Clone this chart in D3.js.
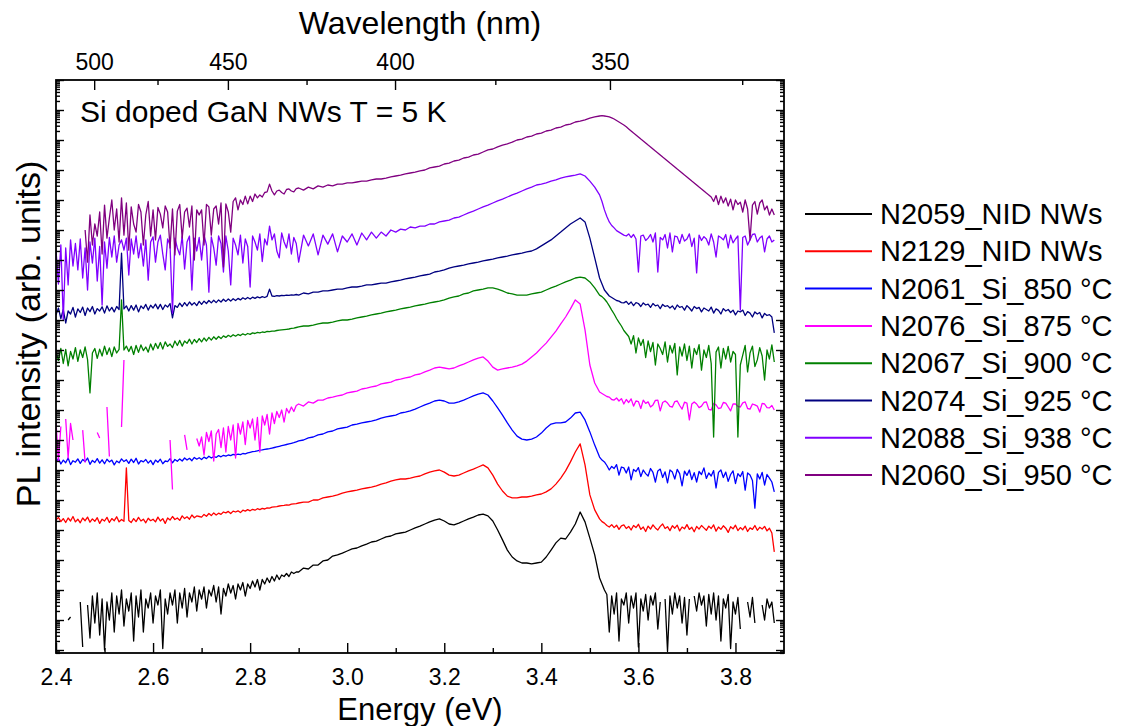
<!DOCTYPE html>
<html>
<head>
<meta charset="utf-8">
<script src="https://cdn.jsdelivr.net/npm/d3@7"></script>
<style>
  body { margin: 0; background: #fff; }
  svg { display: block; }
  text { font-family: "Liberation Sans", Arial, Helvetica, sans-serif; fill: #000; }
</style>
</head>
<body>
<svg id="chart" width="1121" height="726"></svg>
<script>
// Photon energy grid (eV) shared by all spectra: 5 meV steps in the noisy tails, 10 meV in between
const energy = [
  2.400,2.405,2.410,2.415,2.420,2.425,2.430,2.435,2.440,2.445,
  2.450,2.455,2.460,2.465,2.470,2.475,2.480,2.485,2.490,2.495,
  2.500,2.505,2.510,2.515,2.520,2.525,2.530,2.535,2.540,2.545,
  2.550,2.555,2.560,2.565,2.570,2.575,2.580,2.585,2.590,2.595,
  2.600,2.605,2.610,2.615,2.620,2.625,2.630,2.635,2.640,2.645,
  2.650,2.655,2.660,2.665,2.670,2.675,2.680,2.685,2.690,2.695,
  2.700,2.705,2.710,2.715,2.720,2.725,2.730,2.735,2.740,2.745,
  2.750,2.755,2.760,2.765,2.770,2.775,2.780,2.785,2.790,2.795,
  2.800,2.805,2.810,2.815,2.820,2.825,2.830,2.835,2.840,2.845,
  2.850,2.855,2.860,2.865,2.870,2.875,2.880,2.885,2.890,2.895,
  2.90,2.91,2.92,2.93,2.94,2.95,2.96,2.97,2.98,2.99,
  3.00,3.01,3.02,3.03,3.04,3.05,3.06,3.07,3.08,3.09,
  3.10,3.11,3.12,3.13,3.14,3.15,3.16,3.17,3.18,3.19,
  3.20,3.21,3.22,3.23,3.24,3.25,3.26,3.27,3.28,3.29,
  3.30,3.31,3.32,3.33,3.34,3.35,3.36,3.37,3.38,3.39,
  3.40,3.41,3.42,3.43,3.44,3.45,3.46,3.47,3.48,3.49,
  3.50,3.51,
  3.520,3.525,3.530,3.535,3.540,3.545,3.550,3.555,3.560,3.565,
  3.570,3.575,3.580,3.585,3.590,3.595,3.600,3.605,3.610,3.615,
  3.620,3.625,3.630,3.635,3.640,3.645,3.650,3.655,3.660,3.665,
  3.670,3.675,3.680,3.685,3.690,3.695,3.700,3.705,3.710,3.715,
  3.720,3.725,3.730,3.735,3.740,3.745,3.750,3.755,3.760,3.765,
  3.770,3.775,3.780,3.785,3.790,3.795,3.800,3.805,3.810,3.815,
  3.820,3.825,3.830,3.835,3.840,3.845,3.850,3.855,3.860,3.865,
  3.870,3.875,3.880
];

// Sample names, legend order
const samples = [
  "N2059_NID NWs", "N2129_NID NWs", "N2061_Si_850 °C", "N2076_Si_875 °C",
  "N2067_Si_900 °C", "N2074_Si_925 °C", "N2088_Si_938 °C", "N2060_Si_950 °C"
];
const colors = ["#000000", "#ff0000", "#0000ff", "#ff00ff", "#008000", "#000080", "#8000ff", "#800080"];

// log10 of the (vertically offset) PL intensity, one value per energy; null = no positive signal
const pl_N2059 = [
  null,null,null,null,null,1.0,1.1,null,null,null,
  1.6,0.1,null,1.5,0.4,1.8,0.9,1.9,0.5,1.7,
  0.0,1.6,1.0,1.9,0.6,1.8,1.2,2.0,0.8,1.7,
  1.3,1.9,0.3,1.8,1.1,2.0,0.6,1.7,1.4,1.9,
  0.9,1.8,1.5,2.0,0.05,1.7,1.2,1.9,1.5,2.0,
  0.9,1.9,1.4,2.05,1.1,1.9,1.6,2.1,1.3,2.0,
  1.7,2.1,1.4,2.0,1.8,2.15,1.6,2.1,1.2,2.05,
  1.8,2.2,1.9,2.15,1.7,2.2,2.0,2.25,1.8,2.2,
  2.05,2.3,2.1,2.35,2.0,2.35,2.2,2.4,2.25,2.45,
  2.3,2.5,2.35,2.5,2.45,2.55,2.45,2.6,2.55,2.6,
  2.6,2.73,2.7,2.83,2.83,2.97,3.0,3.13,3.17,3.23,
  3.3,3.37,3.4,3.47,3.53,3.6,3.63,3.7,3.77,3.8,
  3.87,3.9,3.93,4.0,4.07,4.13,4.2,4.27,4.33,4.37,
  4.3,4.2,4.17,4.23,4.3,4.37,4.43,4.5,4.53,4.47,
  4.3,4.0,3.67,3.33,3.1,2.97,2.9,2.9,2.87,2.9,
  2.93,3.1,3.33,3.57,3.73,3.7,3.93,4.2,4.6,4.27,
  3.73,3.17,
  2.4,2.2,2.0,1.85,0.6,1.8,1.2,1.9,0.3,1.7,
  1.5,1.9,0.9,1.8,1.4,1.9,0.1,1.7,1.3,1.85,
  1.0,1.8,1.5,1.9,0.7,1.6,null,1.7,-0.05,1.8,
  1.2,1.9,1.4,1.8,0.9,1.75,0.5,1.7,null,1.8,
  1.3,1.9,1.5,1.8,0.8,1.85,1.2,1.9,1.0,1.8,
  0.3,1.7,1.4,1.85,0.05,1.6,1.2,1.75,0.7,null,
  null,1.6,1.1,1.75,0.9,null,null,1.5,1.0,1.7,
  1.4,1.6,0.9
];
const pl_N2129 = [
  4.33,4.42,4.28,4.38,4.25,4.40,4.30,4.45,4.27,4.36,
  4.24,4.40,4.31,4.43,4.26,4.37,4.29,4.41,4.22,4.36,
  4.30,4.42,4.25,4.38,4.31,4.44,4.27,4.35,4.29,6.07,
  4.32,4.25,4.38,4.28,4.42,4.30,4.36,4.24,4.39,4.31,
  4.36,4.27,4.43,4.30,4.38,4.22,4.40,4.33,4.45,4.35,
  4.40,4.32,4.47,4.38,4.44,4.36,4.50,4.41,4.47,4.45,
  4.43,4.52,4.46,4.55,4.48,4.57,4.50,4.56,4.52,4.60,
  4.57,4.62,4.55,4.63,4.60,4.64,4.58,4.66,4.63,4.68,
  4.64,4.69,4.66,4.71,4.68,4.72,4.70,4.74,4.73,4.76,
  4.77,4.78,4.80,4.81,4.82,4.84,4.83,4.86,4.87,4.88,
  4.9,4.93,4.93,5.0,5.0,5.07,5.1,5.13,5.17,5.23,
  5.27,5.3,5.33,5.37,5.4,5.43,5.47,5.53,5.57,5.63,
  5.67,5.7,5.7,5.73,5.77,5.8,5.87,5.93,5.97,6.0,
  5.93,5.83,5.8,5.83,5.9,5.97,6.03,6.1,6.17,6.07,
  5.83,5.53,5.3,5.13,5.07,5.07,5.1,5.1,5.13,5.17,
  5.2,5.27,5.37,5.53,5.73,5.97,6.27,6.6,6.87,6.17,
  5.17,4.67,
  4.37,4.28,4.23,4.15,4.10,4.18,4.08,4.16,4.02,4.14,
  4.17,4.05,4.12,4.00,4.15,4.08,4.19,4.02,4.10,3.95,
  4.13,4.03,4.17,4.07,4.00,4.12,4.20,4.05,4.11,3.98,
  4.14,4.06,4.16,3.97,4.10,4.04,4.18,4.02,4.09,3.94,
  4.12,4.03,4.15,4.07,3.99,4.13,4.05,4.17,3.96,4.10,
  4.02,4.14,4.06,3.92,4.11,4.04,4.16,3.98,4.08,4.01,
  4.13,3.95,4.07,4.02,4.15,3.99,4.09,4.03,4.12,3.97,
  4.06,3.90,3.27
];
const pl_N2061 = [
  6.27,6.38,6.20,6.33,6.24,6.40,6.18,6.31,6.26,6.37,
  6.22,6.35,6.28,6.40,6.19,6.32,6.25,6.38,6.23,6.34,
  6.21,6.36,6.27,6.33,6.17,6.30,6.24,6.37,6.28,6.34,
  6.22,6.36,6.25,6.39,6.20,6.31,6.27,6.35,6.23,6.32,
  6.18,6.33,6.26,6.36,6.21,6.30,6.28,6.38,6.24,6.35,
  6.29,6.37,6.30,6.40,6.33,6.39,6.31,6.42,6.36,6.41,
  6.35,6.43,6.38,6.46,6.40,6.45,6.42,6.48,6.44,6.49,
  6.46,6.50,6.48,6.52,6.50,6.53,6.51,6.55,6.54,6.57,
  6.59,6.61,6.62,6.64,6.66,6.67,6.69,6.70,6.71,6.73,
  6.75,6.77,6.79,6.81,6.83,6.85,6.87,6.89,6.91,6.94,
  6.97,7.0,7.07,7.1,7.17,7.2,7.27,7.3,7.37,7.4,
  7.43,7.5,7.53,7.57,7.6,7.63,7.67,7.73,7.77,7.8,
  7.83,7.9,7.93,7.97,8.03,8.1,8.17,8.23,8.3,8.33,
  8.3,8.23,8.23,8.27,8.33,8.4,8.47,8.53,8.57,8.5,
  8.3,8.07,7.83,7.57,7.33,7.13,7.03,7.0,7.03,7.1,
  7.23,7.4,7.53,7.57,7.57,7.6,7.73,7.9,7.93,7.67,
  7.27,6.83,
  6.43,6.33,6.27,6.15,6.00,6.12,6.05,6.18,5.83,6.10,
  6.07,5.90,6.10,5.67,6.02,5.95,6.08,5.78,6.00,5.88,
  5.80,6.05,5.92,5.60,5.97,6.03,5.75,5.94,5.57,6.00,
  5.93,5.70,6.02,5.88,5.47,5.96,5.82,6.00,5.68,5.91,
  5.60,5.95,5.85,6.07,5.72,5.90,5.80,5.98,5.40,5.92,
  6.00,5.75,5.93,5.62,5.85,5.97,5.55,5.88,5.78,5.95,
  5.33,5.90,5.83,5.65,4.73,5.87,5.70,5.92,5.50,5.85,
  5.73,5.60,5.27
];
const pl_N2076 = [
  7.60,6.30,7.45,null,7.70,6.40,7.55,7.0,null,null,
  null,7.33,6.25,null,null,null,null,7.25,7.07,null,
  null,8.10,6.45,null,null,null,null,7.43,9.67,null,
  null,null,null,null,null,null,null,null,null,null,
  null,null,null,null,null,null,null,7.0,5.35,null,
  null,null,null,7.17,6.67,null,null,null,7.05,6.80,
  7.10,6.50,7.25,6.95,7.30,6.30,7.20,7.35,6.75,7.40,
  6.60,7.45,7.00,7.50,6.40,7.55,7.20,7.60,6.85,7.65,
  7.40,7.70,7.00,7.75,6.60,7.80,7.50,7.85,7.20,7.90,
  7.55,7.95,7.75,8.00,7.60,8.05,7.90,8.10,7.95,8.15,
  8.2,8.13,8.27,8.23,8.33,8.33,8.4,8.43,8.47,8.5,
  8.57,8.6,8.63,8.7,8.73,8.77,8.8,8.87,8.9,8.93,
  9.0,9.03,9.07,9.1,9.17,9.2,9.27,9.33,9.4,9.43,
  9.4,9.37,9.4,9.47,9.53,9.6,9.67,9.73,9.77,9.63,
  9.43,9.33,9.37,9.4,9.43,9.47,9.53,9.63,9.77,9.9,
  10.07,10.23,10.43,10.63,10.87,11.1,11.37,11.67,11.53,10.67,
  9.5,8.9,
  8.60,8.55,8.50,8.45,8.43,8.35,8.33,8.40,8.30,8.38,
  8.20,8.35,8.25,8.37,8.13,8.30,8.28,8.05,8.33,8.22,
  8.27,8.10,8.17,8.32,8.33,7.97,8.25,8.30,8.23,8.12,
  8.10,8.28,8.30,8.15,8.03,8.26,8.23,7.67,8.20,8.27,
  8.20,8.08,8.13,8.25,8.27,8.02,8.00,8.22,8.17,8.05,
  8.07,8.25,8.23,8.10,7.97,8.20,8.20,8.12,8.10,8.24,
  8.27,8.05,8.03,8.20,8.17,8.13,7.93,8.22,8.20,8.08,
  8.07,8.15,8.0
];
const pl_N2067 = [
  9.93,9.65,10.05,9.55,10.02,9.47,9.95,9.70,10.08,9.62,
  10.00,9.75,10.10,9.68,8.57,9.90,10.05,9.72,10.03,9.80,
  10.13,9.85,10.07,9.78,10.10,9.90,10.02,11.67,10.00,10.13,
  9.95,10.12,9.85,10.15,9.92,10.17,9.98,10.10,9.93,10.20,
  10.00,10.22,10.05,10.25,10.03,10.27,10.12,10.20,10.08,10.30,
  10.15,10.32,10.13,10.30,10.22,10.36,10.20,10.35,10.25,10.38,
  10.27,10.40,10.30,10.42,10.33,10.44,10.36,10.45,10.38,10.47,
  10.42,10.49,10.44,10.51,10.46,10.52,10.48,10.54,10.50,10.55,
  10.52,10.57,10.55,10.59,10.57,10.60,10.59,10.62,10.61,10.63,
  10.63,10.65,10.66,10.67,10.68,10.69,10.70,10.72,10.73,10.75,
  10.77,10.8,10.8,10.83,10.87,10.9,10.9,10.93,10.97,11.0,
  11.0,11.03,11.07,11.1,11.13,11.17,11.2,11.23,11.27,11.3,
  11.33,11.37,11.4,11.43,11.47,11.5,11.53,11.57,11.6,11.63,
  11.67,11.73,11.77,11.8,11.87,11.9,11.97,12.0,12.03,12.07,
  12.07,12.03,11.97,11.9,11.87,11.83,11.83,11.83,11.87,11.9,
  11.93,12.0,12.07,12.13,12.2,12.27,12.33,12.4,12.43,12.4,
  12.27,12.07,
  11.83,11.78,11.70,11.60,11.47,11.33,11.20,11.05,10.92,10.80,
  10.65,10.55,10.45,10.20,10.48,9.90,10.40,10.15,10.35,9.75,
  10.30,9.95,10.25,9.50,10.20,10.05,9.85,10.27,9.60,10.15,
  9.90,10.22,9.17,10.10,9.80,10.20,9.65,10.13,9.40,10.05,
  9.85,10.18,9.33,10.00,9.75,10.15,9.55,7.10,9.93,10.10,
  9.40,10.05,9.70,10.12,9.60,9.95,9.85,7.10,9.50,9.83,
  10.15,9.27,9.90,10.13,9.45,9.67,10.08,9.80,9.00,10.00,
  9.70,10.17,9.60
];
const pl_N2074 = [
  11.17,11.40,11.05,11.35,10.90,11.30,11.20,11.42,11.10,11.37,
  11.25,11.43,11.15,11.40,11.28,11.45,11.20,11.38,11.30,11.44,
  11.23,11.47,11.30,11.42,11.27,11.45,11.35,13.23,11.37,11.47,
  11.30,11.48,11.33,11.50,11.27,11.47,11.38,11.52,11.33,11.49,
  11.40,11.53,11.37,11.52,11.35,11.50,11.43,11.55,11.07,11.48,
  11.42,11.56,11.45,11.58,11.47,11.60,11.50,11.58,11.48,11.62,
  11.52,11.63,11.55,11.65,11.57,11.66,11.58,11.67,11.60,11.69,
  11.62,11.70,11.63,11.71,11.65,11.72,11.67,11.74,11.69,11.75,
  11.70,11.76,11.72,11.77,11.74,11.78,11.75,11.79,12.03,11.80,
  11.79,11.81,11.80,11.82,11.81,11.83,11.82,11.84,11.83,11.85,
  11.83,11.9,11.87,11.93,11.93,11.97,11.97,12.0,12.03,12.03,
  12.07,12.1,12.1,12.13,12.17,12.17,12.2,12.23,12.23,12.27,
  12.3,12.33,12.37,12.4,12.43,12.47,12.5,12.53,12.6,12.63,
  12.67,12.73,12.77,12.8,12.83,12.87,12.9,12.93,12.97,13.0,
  13.03,13.07,13.1,13.13,13.17,13.2,13.23,13.27,13.3,13.37,
  13.47,13.57,13.67,13.8,13.93,14.07,14.2,14.3,14.4,14.27,
  13.73,13.07,
  12.40,12.20,12.00,11.90,11.80,11.75,11.70,11.65,11.63,11.58,
  11.57,11.62,11.52,11.60,11.48,11.58,11.55,11.45,11.57,11.50,
  11.53,11.42,11.55,11.47,11.50,11.38,11.52,11.45,11.48,11.40,
  11.47,11.35,11.50,11.42,11.45,11.33,11.48,11.40,11.30,11.45,
  11.38,11.42,11.27,11.40,11.35,11.30,11.43,11.23,11.37,11.32,
  11.20,11.38,11.30,11.35,11.25,11.33,11.17,11.30,11.27,11.33,
  11.15,11.28,11.23,11.10,11.27,11.20,11.25,11.07,11.22,11.15,
  11.18,11.10,10.57
];
const pl_N2088 = [
  13.33,12.20,13.50,11.00,13.40,12.17,13.67,12.80,13.55,12.67,
  13.70,12.40,13.40,12.00,13.60,12.90,13.73,12.30,13.45,11.50,
  13.60,12.73,13.75,13.10,13.80,12.93,13.50,13.67,13.33,13.73,
  12.50,13.70,13.20,13.80,13.07,13.55,12.80,13.67,12.33,13.60,
  13.77,12.93,13.60,13.83,13.20,12.67,13.70,13.50,11.23,13.73,
  13.40,13.17,13.80,12.70,13.60,13.80,12.00,13.73,13.30,13.75,
  13.00,13.83,13.50,11.93,13.77,13.40,12.83,13.80,13.55,12.60,
  13.80,13.30,12.17,13.73,13.50,13.17,13.83,12.90,13.70,13.45,
  12.10,13.80,13.60,13.33,13.87,12.95,13.70,13.50,14.13,13.67,
  13.87,13.30,13.07,13.90,13.60,13.40,13.87,13.20,13.75,13.55,
  12.93,13.83,13.47,13.87,13.17,13.83,13.53,13.87,13.27,13.8,
  13.6,13.87,13.5,13.9,13.67,13.93,13.73,13.93,13.8,14.0,
  13.93,14.03,14.0,14.1,14.07,14.13,14.13,14.2,14.2,14.27,
  14.3,14.33,14.4,14.43,14.5,14.57,14.63,14.7,14.77,14.83,
  14.9,14.97,15.03,15.1,15.17,15.23,15.3,15.37,15.43,15.5,
  15.53,15.57,15.63,15.67,15.73,15.77,15.8,15.83,15.87,15.8,
  15.63,15.43,
  15.17,14.95,14.67,14.45,14.27,14.15,14.07,13.98,13.93,13.88,
  13.83,13.80,13.87,13.75,13.85,13.70,12.60,13.80,13.83,13.65,
  13.73,13.85,13.60,13.90,12.60,13.75,13.67,13.85,13.40,13.90,
  13.27,13.80,13.77,13.55,13.85,13.63,13.70,13.87,13.45,13.73,
  12.57,13.83,13.65,13.78,13.70,13.50,13.87,13.60,13.10,13.80,
  13.75,13.67,13.85,13.40,13.83,13.57,13.70,13.80,11.33,13.75,
  13.80,13.50,13.67,13.85,13.87,13.60,13.73,13.80,13.27,13.70,
  13.80,13.60,13.67
];
const pl_N2060 = [
  null,null,null,null,null,null,null,null,null,null,
  null,null,14.00,12.93,14.50,13.50,14.20,13.80,14.60,13.20,
  14.83,13.73,14.40,15.00,14.00,14.70,13.60,15.07,13.83,14.90,
  13.33,14.77,14.20,13.93,14.85,14.60,13.50,14.50,14.95,13.80,
  14.67,13.67,14.75,14.53,14.07,14.80,14.60,13.40,14.70,13.17,
  14.63,14.85,13.73,14.60,14.73,14.10,14.80,13.00,14.67,14.50,
  14.67,13.50,14.85,14.77,13.83,14.70,14.80,14.20,14.90,12.77,
  14.87,14.60,13.93,14.95,15.07,14.67,15.00,14.85,15.13,14.87,
  15.13,14.95,15.20,15.07,15.17,15.10,15.25,15.27,15.53,15.30,
  15.17,15.30,15.33,15.25,15.20,15.35,15.37,15.30,15.27,15.38,
  15.4,15.33,15.43,15.37,15.47,15.43,15.5,15.47,15.53,15.53,
  15.57,15.57,15.6,15.63,15.63,15.67,15.7,15.7,15.73,15.77,
  15.8,15.83,15.87,15.9,15.93,15.97,16.0,16.07,16.1,16.13,
  16.2,16.23,16.3,16.33,16.4,16.43,16.5,16.53,16.6,16.67,
  16.7,16.77,16.83,16.87,16.93,17.0,17.03,17.1,17.13,17.2,
  17.23,17.3,17.33,17.4,17.43,17.5,17.53,17.6,17.63,17.67,
  17.73,17.77,
  17.80,17.81,17.80,17.79,17.77,17.74,17.70,17.65,17.60,17.55,
  17.50,17.44,17.37,17.30,17.23,17.17,17.10,17.03,16.97,16.90,
  16.83,16.77,16.70,16.63,16.57,16.50,16.43,16.37,16.30,16.23,
  16.17,16.10,16.03,15.97,15.90,15.83,15.77,15.70,15.63,15.57,
  15.50,15.43,15.37,15.30,15.23,15.17,15.10,14.95,15.15,14.85,
  15.13,14.90,15.07,14.80,15.03,14.67,15.00,14.85,14.93,14.60,
  15.00,14.70,13.67,14.83,14.95,14.53,14.90,15.00,14.67,14.80,
  14.50,14.70,14.50
];
const spectra = [pl_N2059, pl_N2129, pl_N2061, pl_N2076, pl_N2067, pl_N2074, pl_N2088, pl_N2060];

// Axis ticks
const energyMajor = [2.4, 2.6, 2.8, 3.0, 3.2, 3.4, 3.6, 3.8];
const energyMinor = [2.5, 2.7, 2.9, 3.1, 3.3, 3.5, 3.7];
const wavelengthMajor = [500, 450, 400, 350];
const wavelengthMinor = [475, 425, 375, 325];
const HC = 1239.84; // eV·nm

const svg = d3.select("#chart");
svg.append("rect").attr("width", 1121).attr("height", 726).attr("fill", "#fff");

const plot = { left: 56, right: 784, top: 80, bottom: 653 };
const x = d3.scaleLinear().domain([2.4, 3.9]).range([plot.left, plot.right]);
const y = d3.scaleLog().domain([Math.pow(10, -0.1), 1e19]).range([plot.bottom, plot.top]);

// Log ticks (decades + minor)
const yMajor = [], yMinor = [];
for (let k = -1; k <= 19; k++) {
  for (let m = 1; m <= 9; m++) {
    const v = m * Math.pow(10, k);
    if (v < y.domain()[0] || v > y.domain()[1]) continue;
    (m === 1 ? yMajor : yMinor).push(v);
  }
}

svg.append("defs").append("clipPath").attr("id", "plotClip")
  .append("rect")
  .attr("x", plot.left).attr("y", plot.top)
  .attr("width", plot.right - plot.left).attr("height", plot.bottom - plot.top);

// Spectra
const line = d3.line()
  .defined(d => d.v !== null)
  .x(d => x(d.e))
  .y(d => y(Math.pow(10, d.v)));

const curves = svg.append("g").attr("clip-path", "url(#plotClip)");
spectra.forEach((vals, i) => {
  if (vals.length !== energy.length) console.error(samples[i], vals.length, energy.length);
  const pts = energy.map((e, j) => ({ e, v: vals[j] === undefined ? null : vals[j] }));
  curves.append("path")
    .datum(pts)
    .attr("fill", "none")
    .attr("stroke", colors[i])
    .attr("stroke-width", 1.3)
    .attr("stroke-linejoin", "round")
    .attr("d", line);
});

// Axes
function styleAxis(g) {
  g.select(".domain").remove();
  g.selectAll(".tick line").attr("stroke", "#000").attr("stroke-width", 1.4);
  g.selectAll(".tick text").style("font-size", "23px").attr("fill", "#000");
}

svg.append("g").attr("transform", `translate(0,${plot.bottom})`)
  .call(d3.axisBottom(x).tickValues(energyMajor).tickFormat(d3.format(".1f"))
    .tickSizeInner(-10).tickSizeOuter(0).tickPadding(16))
  .call(styleAxis);
svg.append("g").attr("transform", `translate(0,${plot.bottom})`)
  .call(d3.axisBottom(x).tickValues(energyMinor).tickFormat(() => "")
    .tickSizeInner(-5).tickSizeOuter(0))
  .call(styleAxis);

const xw = wl => x(HC / wl);
const topAxis = svg.append("g").attr("transform", `translate(0,${plot.top})`);
wavelengthMajor.forEach(wl => {
  topAxis.append("line").attr("x1", xw(wl)).attr("x2", xw(wl))
    .attr("y1", 0).attr("y2", 10).attr("stroke", "#000").attr("stroke-width", 1.4);
  topAxis.append("text").attr("x", xw(wl)).attr("y", -10)
    .attr("text-anchor", "middle").style("font-size", "23px").text(wl);
});
wavelengthMinor.forEach(wl => {
  topAxis.append("line").attr("x1", xw(wl)).attr("x2", xw(wl))
    .attr("y1", 0).attr("y2", 5).attr("stroke", "#000").attr("stroke-width", 1.4);
});

[[d3.axisLeft, plot.left], [d3.axisRight, plot.right]].forEach(([axisFn, xPos]) => {
  svg.append("g").attr("transform", `translate(${xPos},0)`)
    .call(axisFn(y).tickValues(yMajor).tickFormat(() => "").tickSizeInner(-8).tickSizeOuter(0))
    .call(styleAxis);
  svg.append("g").attr("transform", `translate(${xPos},0)`)
    .call(axisFn(y).tickValues(yMinor).tickFormat(() => "").tickSizeInner(-4).tickSizeOuter(0))
    .call(styleAxis);
});

// Frame
svg.append("rect")
  .attr("x", plot.left).attr("y", plot.top)
  .attr("width", plot.right - plot.left).attr("height", plot.bottom - plot.top)
  .attr("fill", "none").attr("stroke", "#000").attr("stroke-width", 1.8);

// Axis titles
svg.append("text").attr("x", (plot.left + plot.right) / 2).attr("y", 720)
  .attr("text-anchor", "middle").style("font-size", "31px").text("Energy (eV)");
svg.append("text").attr("x", (plot.left + plot.right) / 2).attr("y", 34)
  .attr("text-anchor", "middle").style("font-size", "32px").text("Wavelength (nm)");
svg.append("text").attr("transform", "translate(40,334) rotate(-90)")
  .attr("text-anchor", "middle").style("font-size", "34px").text("PL intensity (arb. units)");

// Annotation
svg.append("text").attr("x", 80).attr("y", 122).style("font-size", "30px")
  .text("Si doped GaN NWs T = 5 K");

// Legend
const legend = svg.append("g");
samples.forEach((name, i) => {
  const ly = 214 + i * 37.3;
  legend.append("line").attr("x1", 805).attr("x2", 872).attr("y1", ly).attr("y2", ly)
    .attr("stroke", colors[i]).attr("stroke-width", 2);
  legend.append("text").attr("x", 880).attr("y", ly + 10).style("font-size", "29px").text(name);
});
</script>
</body>
</html>
